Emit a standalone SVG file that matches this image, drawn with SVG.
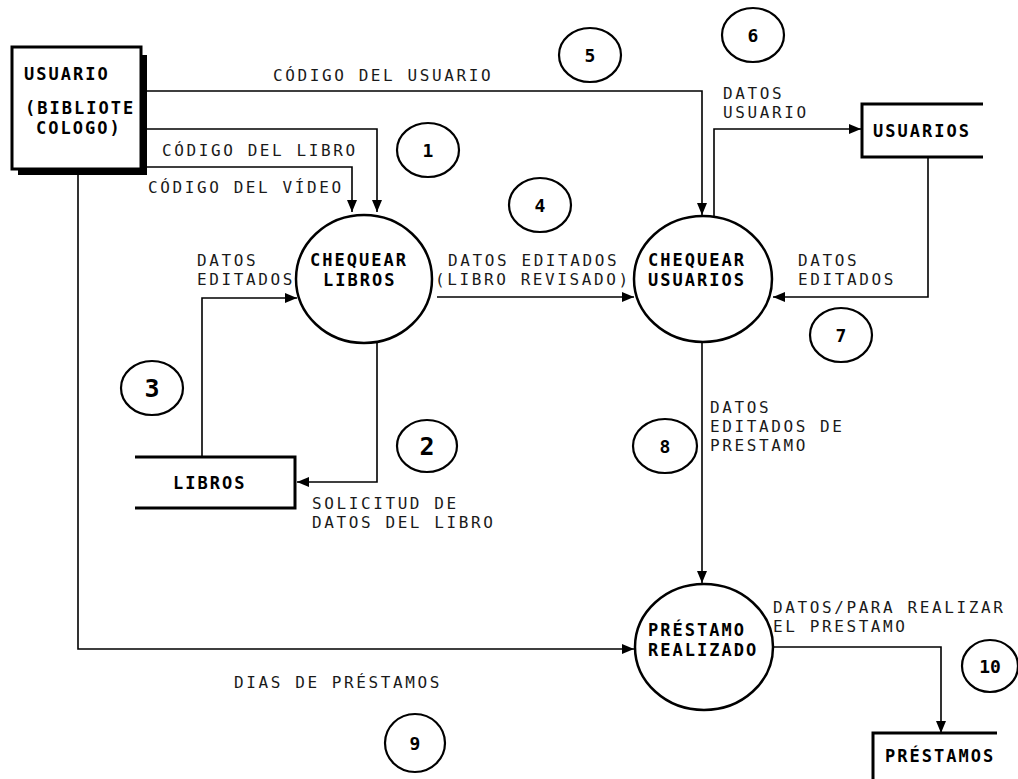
<svg xmlns="http://www.w3.org/2000/svg" width="1018" height="779" viewBox="0 0 1018 779">
<style>
.lbl{font-family:"DejaVu Sans Mono","Liberation Mono",monospace;font-size:16px;letter-spacing:2.6px;fill:#1a1a1a}
.nm{font-family:"DejaVu Sans Mono","Liberation Mono",monospace;font-size:17px;letter-spacing:2px;font-weight:bold;fill:#000}
.num{font-family:"DejaVu Sans Mono","Liberation Mono",monospace;font-size:18px;font-weight:bold;fill:#000;text-anchor:middle}
.big{font-size:25px}
.proc{fill:none;stroke:#000;stroke-width:2.5}
.ref{fill:none;stroke:#000;stroke-width:2.2}
.store{fill:none;stroke:#000;stroke-width:3}
.conn{fill:none;stroke:#000;stroke-width:1.6;marker-end:url(#arr)}
</style>
<defs>
<marker id="arr" markerUnits="userSpaceOnUse" markerWidth="12" markerHeight="10" refX="12" refY="5" orient="auto">
<path d="M0,0 L12,5 L0,10 z" fill="#000"/>
</marker>
</defs>
<rect width="1018" height="779" fill="#fff"/>

<g id="usuario">
<rect x="140" y="55" width="7" height="120" fill="#000"/>
<rect x="18" y="168" width="129" height="7" fill="#000"/>
<rect x="12" y="47" width="129" height="122" fill="#fff" stroke="#000" stroke-width="3"/>
<text class="nm" x="24" y="80">USUARIO</text>
<text class="nm" x="25" y="114">(BIBLIOTE</text>
<text class="nm" x="36" y="134">COLOGO)</text>
</g>

<g id="chequear-libros">
<ellipse class="proc" cx="364" cy="279" rx="68" ry="64"/>
<text class="nm" x="310" y="266">CHEQUEAR</text>
<text class="nm" x="323" y="286">LIBROS</text>
</g>

<g id="chequear-usuarios">
<ellipse class="proc" cx="703" cy="279" rx="69" ry="63"/>
<text class="nm" x="648" y="266">CHEQUEAR</text>
<text class="nm" x="648" y="286">USUARIOS</text>
</g>

<g id="prestamo-realizado">
<ellipse class="proc" cx="704" cy="647" rx="69" ry="63"/>
<text class="nm" x="648" y="636">PRÉSTAMO</text>
<text class="nm" x="648" y="656">REALIZADO</text>
</g>

<g id="libros">
<path class="store" d="M135,457 H295 V508 H135"/>
<text class="nm" x="173" y="489">LIBROS</text>
</g>

<g id="usuarios">
<path class="store" d="M983,104 H862 V157 H983"/>
<text class="nm" x="873" y="137">USUARIOS</text>
</g>

<g id="prestamos">
<path class="store" d="M997,733 H873 V779"/>
<text class="nm" x="885" y="762">PRÉSTAMOS</text>
</g>

<g id="connectors">
<path class="conn" d="M147,91 H702 V215"/>
<path class="conn" d="M147,129 H377 V212"/>
<path class="conn" d="M147,167 H352 V212"/>
<path class="conn" d="M78,175 V649 H634"/>
<path class="conn" d="M377,343 V482 H297"/>
<path class="conn" d="M202,457 V298 H297"/>
<path class="conn" d="M437,297 H634"/>
<path class="conn" d="M714,216 V129 H861"/>
<path class="conn" d="M928,157 V297 H773"/>
<path class="conn" d="M702,342 V583"/>
<path class="conn" d="M773,647 H941 V733"/>
</g>

<g id="labels">
<text class="lbl" x="273" y="81">CÓDIGO DEL USUARIO</text>
<text class="lbl" x="162" y="156">CÓDIGO DEL LIBRO</text>
<text class="lbl" x="148" y="193">CÓDIGO DEL VÍDEO</text>
<text class="lbl" x="723" y="99">DATOS</text>
<text class="lbl" x="723" y="118">USUARIO</text>
<text class="lbl" x="197" y="266">DATOS</text>
<text class="lbl" x="197" y="285">EDITADOS</text>
<text class="lbl" x="448" y="266">DATOS EDITADOS</text>
<text class="lbl" x="435" y="285">(LIBRO REVISADO)</text>
<text class="lbl" x="798" y="266">DATOS</text>
<text class="lbl" x="798" y="285">EDITADOS</text>
<text class="lbl" x="312" y="509">SOLICITUD DE</text>
<text class="lbl" x="312" y="528">DATOS DEL LIBRO</text>
<text class="lbl" x="710" y="413">DATOS</text>
<text class="lbl" x="710" y="432">EDITADOS DE</text>
<text class="lbl" x="710" y="451">PRESTAMO</text>
<text class="lbl" x="773" y="613">DATOS/PARA REALIZAR</text>
<text class="lbl" x="773" y="632">EL PRESTAMO</text>
<text class="lbl" x="234" y="688">DIAS DE PRÉSTAMOS</text>
</g>

<g id="refs">
<ellipse class="ref" cx="428" cy="150" rx="31" ry="27"/><text class="num" x="428" y="157">1</text>
<ellipse class="ref" cx="427" cy="446" rx="30" ry="26"/><text class="num big" x="427" y="455">2</text>
<ellipse class="ref" cx="152" cy="388" rx="31" ry="27"/><text class="num big" x="152" y="397">3</text>
<ellipse class="ref" cx="540" cy="205" rx="31" ry="27"/><text class="num" x="540" y="212">4</text>
<ellipse class="ref" cx="590" cy="55" rx="31" ry="27"/><text class="num" x="590" y="62">5</text>
<ellipse class="ref" cx="753" cy="35" rx="31" ry="27"/><text class="num" x="753" y="42">6</text>
<ellipse class="ref" cx="841" cy="335" rx="31" ry="27"/><text class="num" x="841" y="342">7</text>
<ellipse class="ref" cx="665" cy="446" rx="32" ry="27"/><text class="num" x="665" y="453">8</text>
<ellipse class="ref" cx="415" cy="743" rx="30" ry="29"/><text class="num" x="415" y="750">9</text>
<ellipse class="ref" cx="990" cy="666" rx="28" ry="26"/><text class="num" x="990" y="673">10</text>
</g>
</svg>
